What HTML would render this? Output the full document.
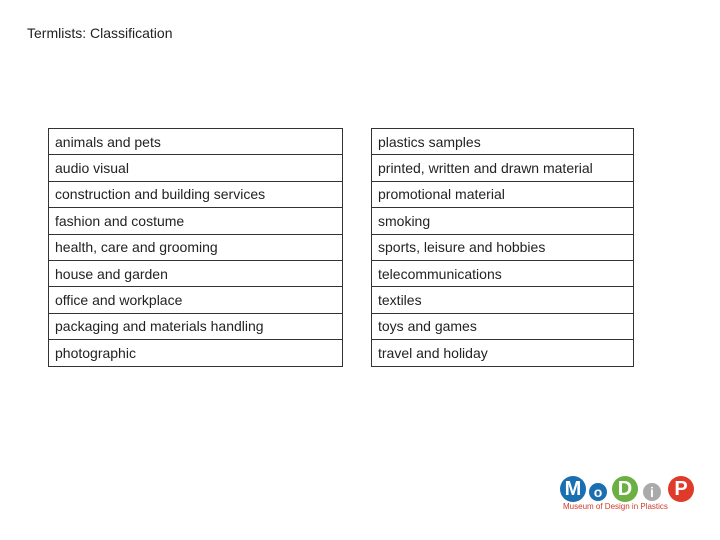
<!DOCTYPE html>
<html><head><meta charset="utf-8"><style>
body{margin:0;width:720px;height:540px;background:#fff;position:relative;overflow:hidden;font-family:"Liberation Sans",sans-serif;color:#222}
.title{position:absolute;left:27px;top:25px;font-size:14px}
table{position:absolute;border-collapse:collapse;top:128px}
td{border:1px solid #333;height:26.4px;padding:0 0 0 6px;font-size:14px;box-sizing:border-box;color:#222}
.c{position:absolute;border-radius:50%;color:#fff;font-weight:bold;text-align:center}
</style></head><body>
<div class="title">Termlists: Classification</div>
<table style="left:48px;width:295px">
<tr><td>animals and pets</td></tr><tr><td>audio visual</td></tr><tr><td>construction and building services</td></tr><tr><td>fashion and costume</td></tr><tr><td>health, care and grooming</td></tr><tr><td>house and garden</td></tr><tr><td>office and workplace</td></tr><tr><td>packaging and materials handling</td></tr><tr><td>photographic</td></tr>
</table>
<table style="left:371px;width:263px">
<tr><td>plastics samples</td></tr><tr><td>printed, written and drawn material</td></tr><tr><td>promotional material</td></tr><tr><td>smoking</td></tr><tr><td>sports, leisure and hobbies</td></tr><tr><td>telecommunications</td></tr><tr><td>textiles</td></tr><tr><td>toys and games</td></tr><tr><td>travel and holiday</td></tr>
</table>
<div>
<div class="c" style="left:560px;top:476px;width:26px;height:26px;line-height:26px;font-size:20px;background:#1a6fb0">M</div>
<div class="c" style="left:589px;top:483px;width:18px;height:18px;line-height:18px;font-size:14px;background:#1a6fb0">o</div>
<div class="c" style="left:612px;top:476px;width:26px;height:26px;line-height:26px;font-size:20px;background:#6ab042">D</div>
<div class="c" style="left:643px;top:483px;width:18px;height:18px;line-height:18px;font-size:14px;background:#aaa">i</div>
<div class="c" style="left:668px;top:476px;width:26px;height:26px;line-height:26px;font-size:20px;background:#e03a2a">P</div>
<div style="position:absolute;left:563px;top:502px;font-size:8px;color:#d03a2a">Museum of Design in Plastics</div>
</div>
</body></html>
